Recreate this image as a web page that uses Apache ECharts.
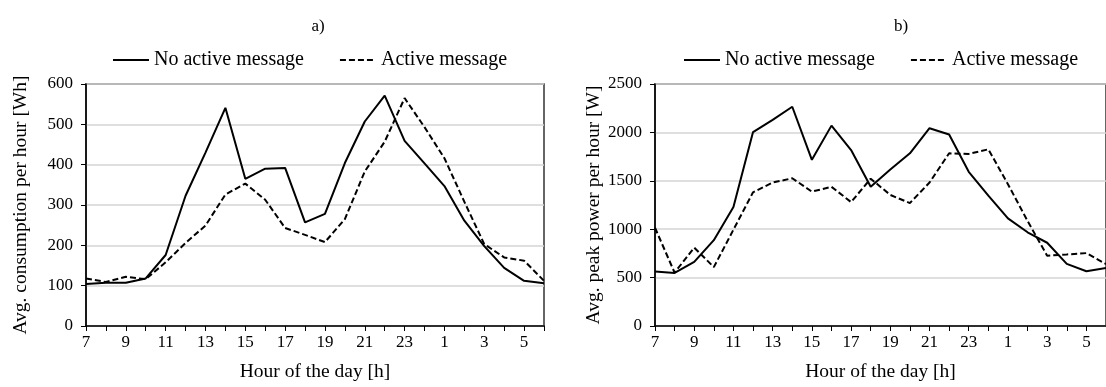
<!DOCTYPE html>
<html>
<head>
<meta charset="utf-8">
<script src="https://cdn.jsdelivr.net/npm/echarts@6/dist/echarts.min.js"></script>
<style>
html,body{margin:0;padding:0;background:#fff;}
#c{width:1106px;height:387px;}
</style>
</head>
<body>
<div id="c"></div>
<script>
const hours = ['7','8','9','10','11','12','13','14','15','16','17','18','19','20','21','22','23','0','1','2','3','4','5','6'];
const seriesNames = ['No active message', 'Active message'];
const consumptionNoActive = [104,107,107,118,176,323,430,541,365,390,392,257,278,404,507,571,459,403,347,261,198,144,112,106];
const consumptionActive = [118,109,122,116,158,206,249,326,353,313,243,226,208,265,383,457,565,493,416,308,203,170,162,112];
const peakNoActive = [562,548,662,887,1230,2003,2130,2265,1717,2070,1818,1438,1616,1784,2043,1979,1593,1347,1112,968,860,642,565,600];
const peakActive = [1015,551,810,608,995,1381,1482,1526,1388,1438,1280,1522,1354,1270,1482,1784,1778,1825,1465,1085,726,739,753,640];
const panelTitles = ['a)', 'b)'];
const xAxisName = 'Hour of the day [h]';
const yAxisNames = ['Avg. consumption per hour [Wh]', 'Avg. peak power per hour [W]'];

const FONT = 'Liberation Serif, Times New Roman, serif';
const chart = echarts.init(document.getElementById('c'), null, {renderer: 'canvas'});

function xAx(gi) {
  return {
    type: 'category', gridIndex: gi, data: hours, boundaryGap: false,
    name: xAxisName, nameLocation: 'middle', nameGap: 36,
    nameTextStyle: {fontFamily: FONT, fontSize: 19.5, color: '#000'},
    axisLine: {lineStyle: {color: '#000', width: 1.5}},
    axisTick: {show: true, interval: 0, length: 5, lineStyle: {color: '#000', width: 1}},
    axisLabel: {interval: 1, margin: 8, fontFamily: FONT, fontSize: 17, color: '#000'},
    splitLine: {show: false}
  };
}
function yAx(gi, max, step, gap) {
  return {
    type: 'value', gridIndex: gi, min: 0, max: max, interval: step,
    name: yAxisNames[gi], nameLocation: 'middle', nameGap: gap, nameRotate: 90,
    nameTextStyle: {fontFamily: FONT, fontSize: 19.5, color: '#000'},
    axisLine: {show: true, lineStyle: {color: '#000', width: 1.5}},
    axisTick: {show: true, length: 5, lineStyle: {color: '#000', width: 1}},
    axisLabel: {margin: 13, fontFamily: FONT, fontSize: 17, color: '#000', formatter: function (v) { return String(v); }},
    splitLine: {show: true, lineStyle: {color: '#d4d4d4', width: 1.5}}
  };
}
function ser(name, data, gi, dashed) {
  return {
    name: name, type: 'line', xAxisIndex: gi, yAxisIndex: gi, data: data,
    symbol: 'none', smooth: false, animation: false,
    lineStyle: {color: '#000', width: 2, type: dashed ? [6, 3] : 'solid'},
    itemStyle: {color: '#000'}
  };
}
const legendCommon = {
  data: seriesNames, itemWidth: 36, itemHeight: 14, itemGap: 35, top: 50, padding: 0,
  itemStyle: {opacity: 0},
  textStyle: {fontFamily: FONT, fontSize: 20, color: '#000'}, selectedMode: false
};

chart.setOption({
  backgroundColor: '#fff',
  animation: false,
  title: [
    {text: panelTitles[0], left: 313, top: 13, textAlign: 'center', textStyle: {fontFamily: FONT, fontSize: 17, fontWeight: 'normal', color: '#000'}},
    {text: panelTitles[1], left: 896, top: 13, textAlign: 'center', textStyle: {fontFamily: FONT, fontSize: 17, fontWeight: 'normal', color: '#000'}}
  ],
  legend: [
    Object.assign({left: 112}, legendCommon),
    Object.assign({left: 683}, legendCommon)
  ],
  grid: [
    {left: 86, top: 84, width: 458, height: 248, show: true, borderColor: '#333', borderWidth: 1.5, containLabel: false},
    {left: 655, top: 84, width: 460, height: 248, show: true, borderColor: '#333', borderWidth: 1.5, containLabel: false}
  ],
  xAxis: [xAx(0), xAx(1)],
  yAxis: [yAx(0, 600, 100, 55), yAx(1, 2500, 500, 48)],
  series: [
    ser(seriesNames[0], consumptionNoActive, 0, false),
    ser(seriesNames[1], consumptionActive, 0, true),
    ser(seriesNames[0], peakNoActive, 1, false),
    ser(seriesNames[1], peakActive, 1, true)
  ]
});
</script>
</body>
</html>
